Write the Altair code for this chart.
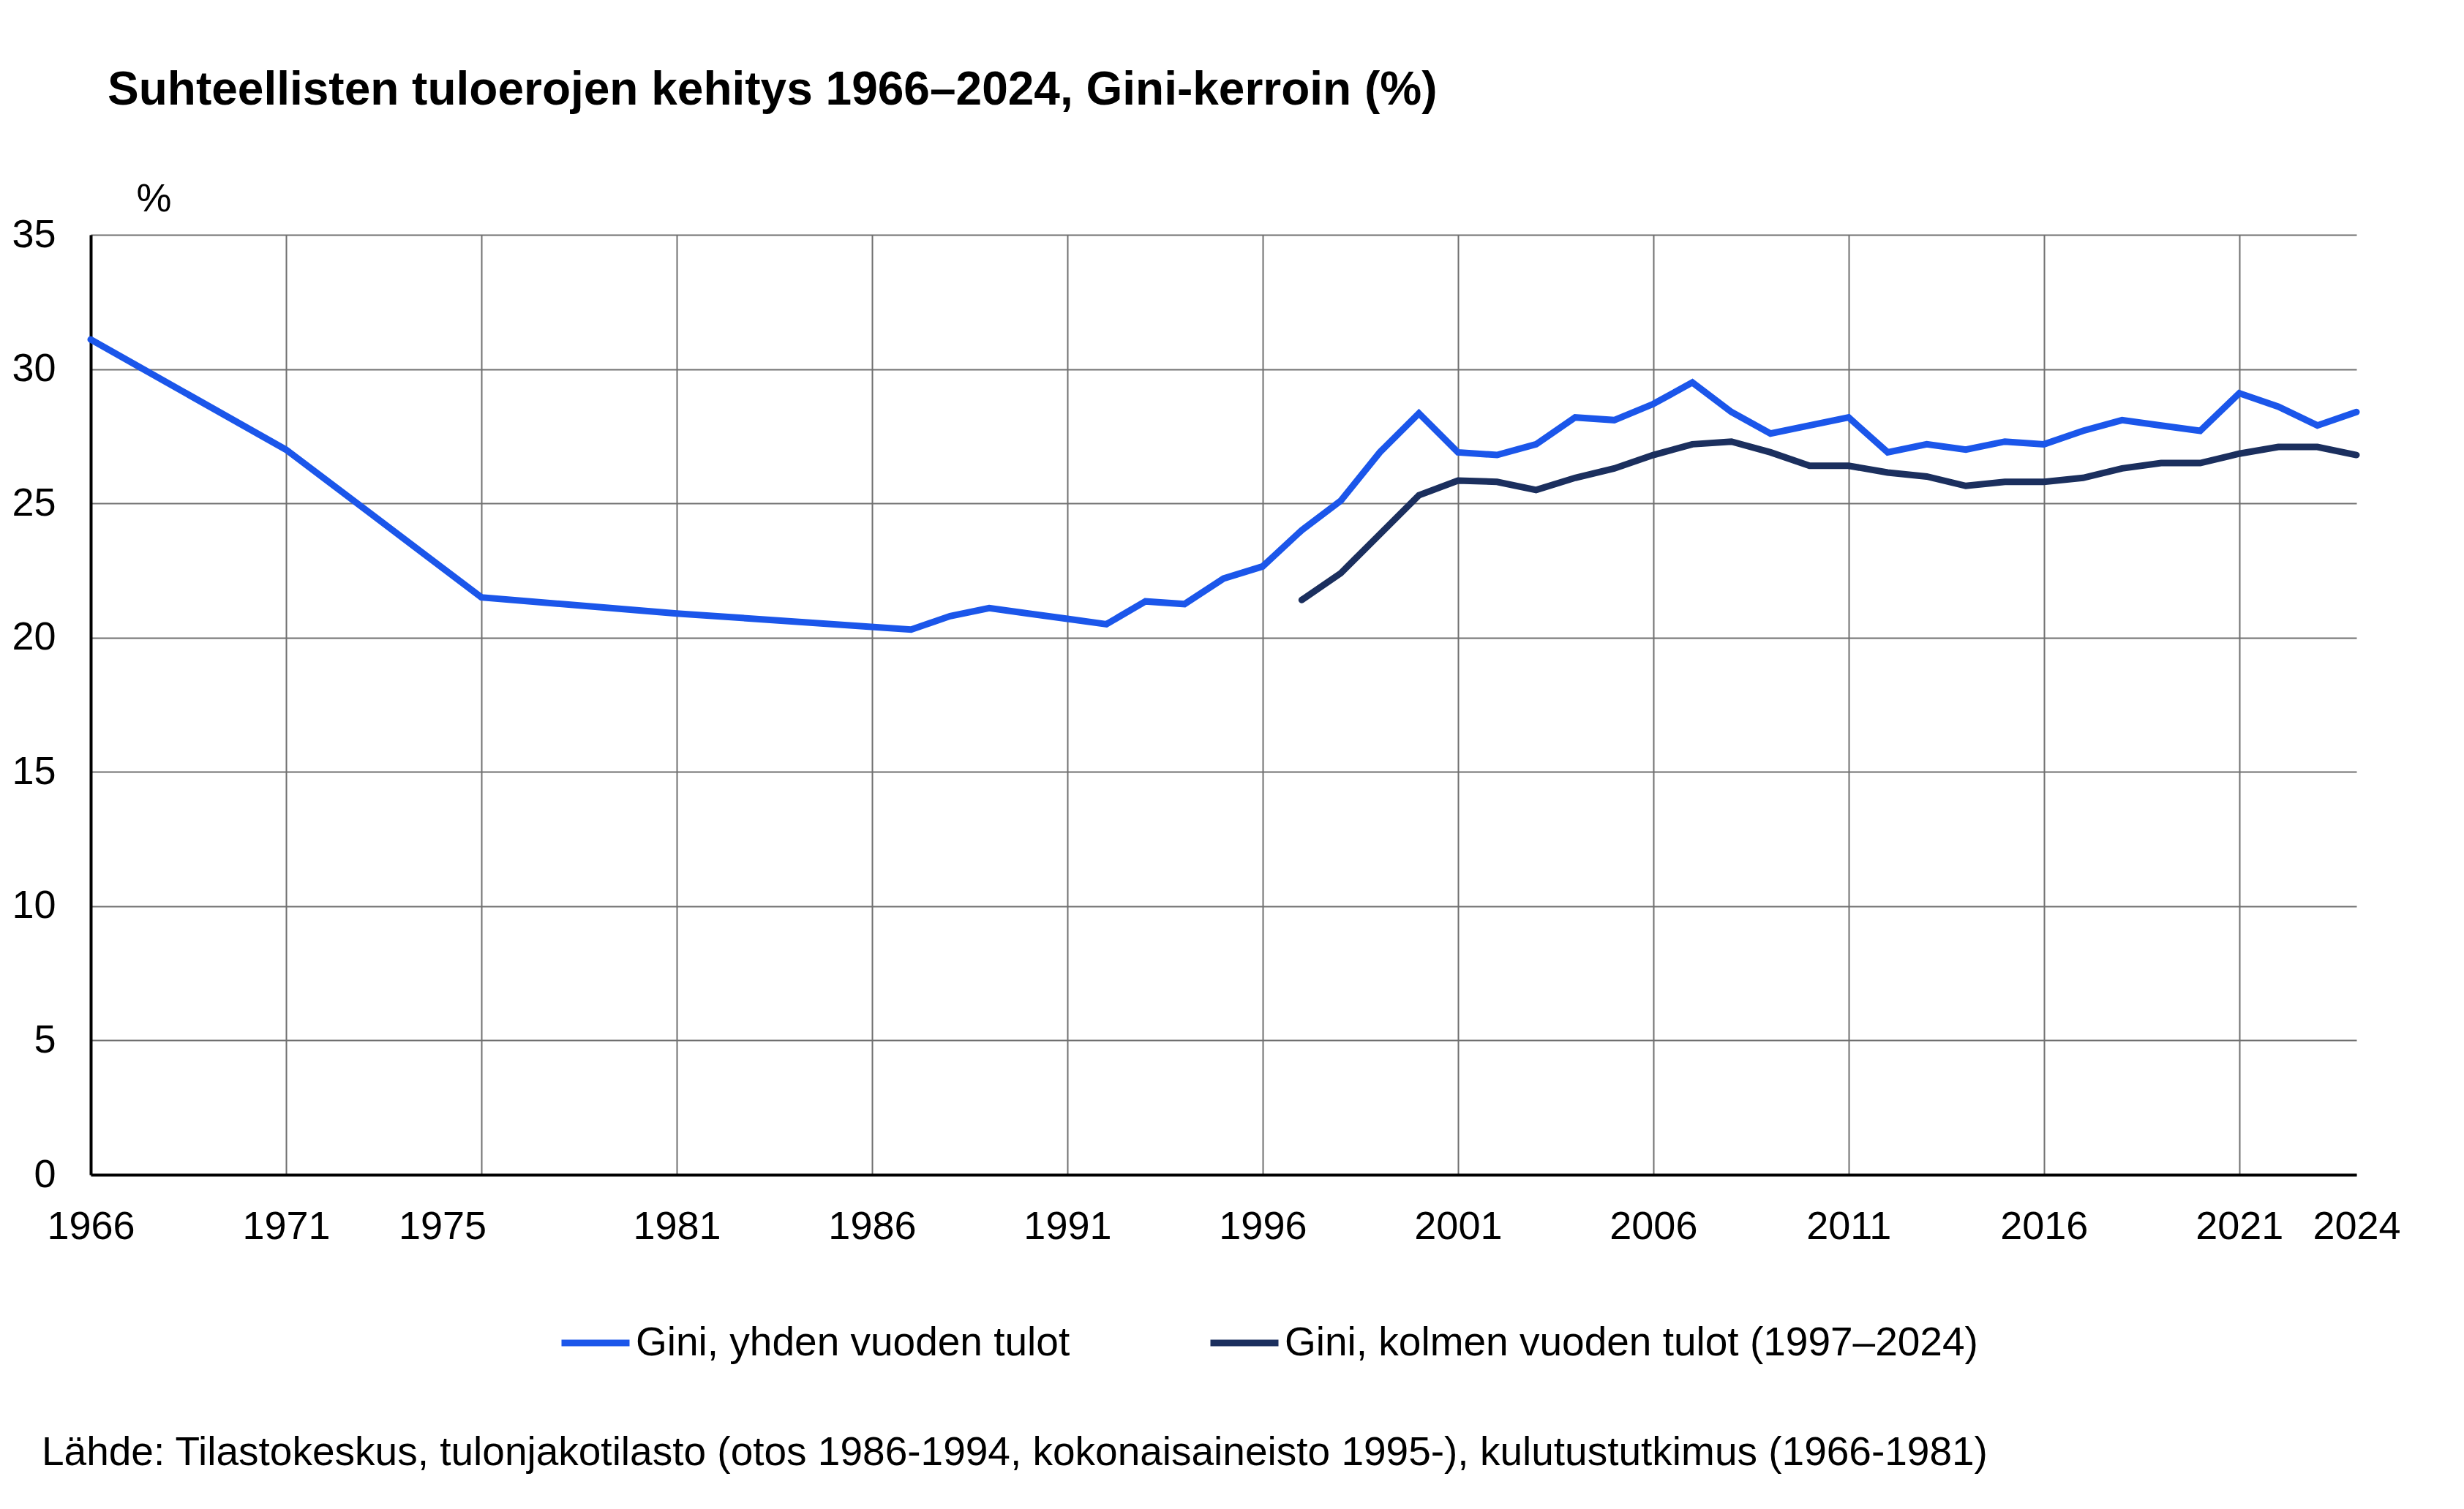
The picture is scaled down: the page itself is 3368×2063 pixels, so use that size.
import altair as alt
import pandas as pd

# ---- data ----
years_one = [1966, 1971, 1976, 1981, 1987, 1988, 1989, 1990, 1991, 1992, 1993, 1994,
             1995, 1996, 1997, 1998, 1999, 2000, 2001, 2002, 2003, 2004, 2005, 2006,
             2007, 2008, 2009, 2010, 2011, 2012, 2013, 2014, 2015, 2016, 2017, 2018,
             2019, 2020, 2021, 2022, 2023, 2024]
gini_one = [31.1, 27.0, 21.5, 20.9, 20.3, 20.8, 21.1, 20.9, 20.7, 20.5, 21.35, 21.25,
            22.2, 22.65, 24.0, 25.1, 26.9, 28.35, 26.9, 26.8, 27.2, 28.2, 28.1, 28.7,
            29.5, 28.4, 27.6, 27.9, 28.2, 26.9, 27.2, 27.0, 27.3, 27.2, 27.7, 28.1,
            27.9, 27.7, 29.1, 28.6, 27.9, 28.4]

years_three = [1997, 1998, 1999, 2000, 2001, 2002, 2003, 2004, 2005, 2006, 2007, 2008,
               2009, 2010, 2011, 2012, 2013, 2014, 2015, 2016, 2017, 2018, 2019, 2020,
               2021, 2022, 2023, 2024]
gini_three = [21.4, 22.4, 23.85, 25.3, 25.85, 25.8, 25.5, 25.95, 26.3, 26.8, 27.2, 27.3,
              26.9, 26.4, 26.4, 26.15, 26.0, 25.65, 25.8, 25.8, 25.95, 26.3, 26.5, 26.5,
              26.85, 27.1, 27.1, 26.8]

series_names = ["Gini, yhden vuoden tulot", "Gini, kolmen vuoden tulot (1997–2024)"]
series_colors = ["#1B56EA", "#1B2F5E"]

grid_years = [1966, 1971, 1976, 1981, 1986, 1991, 1996, 2001, 2006, 2011, 2016, 2021]
label_years = [1966, 1971, 1975, 1981, 1986, 1991, 1996, 2001, 2006, 2011, 2016, 2021, 2024]
y_ticks = [0, 5, 10, 15, 20, 25, 30, 35]

title_text = "Suhteellisten tuloerojen kehitys 1966–2024, Gini-kerroin (%)"
source_text = ("Lähde: Tilastokeskus, tulonjakotilasto (otos 1986-1994, kokonaisaineisto 1995-), "
               "kulutustutkimus (1966-1981)")

df_one = pd.DataFrame({"year": years_one, "gini": gini_one, "series": series_names[0]})
df_three = pd.DataFrame({"year": years_three, "gini": gini_three, "series": series_names[1]})
df_source = pd.DataFrame({"t": [source_text]})

FONT = "Liberation Sans"
GRID = "#707070"

x_scale = alt.Scale(domain=[1966, 2024], nice=False, zero=False)
y_scale = alt.Scale(domain=[0, 35], nice=False)
color_scale = alt.Scale(domain=series_names, range=series_colors)

y_enc = alt.Y(
    "gini:Q", scale=y_scale,
    axis=alt.Axis(values=y_ticks, format="d", title="%", titleAngle=0, titleAlign="left",
                  titleBaseline="alphabetic", titleX=62, titleY=-33, titleFontSize=54,
                  titleFontWeight="normal", titleFont=FONT, titleColor="black",
                  labelFontSize=54, labelFont=FONT, labelColor="black", labelPadding=48,
                  ticks=False, domainColor="black", domainWidth=4, grid=True,
                  gridColor=GRID, gridWidth=2, gridOpacity=1),
)

color_enc = alt.Color(
    "series:N", scale=color_scale,
    legend=alt.Legend(title=None, orient="none", legendX=639, legendY=1464,
                      direction="horizontal", symbolType="stroke", symbolSize=8649,
                      symbolStrokeWidth=9, labelFontSize=55, labelFont=FONT,
                      labelColor="black", labelOffset=4, labelLimit=0,
                      columnPadding=173),
)

line_one = alt.Chart(df_one).mark_line(strokeWidth=9, strokeCap="round").encode(
    x=alt.X("year:Q", scale=x_scale,
            axis=alt.Axis(values=grid_years, labels=False, ticks=False, grid=True,
                          gridColor=GRID, gridWidth=2, gridOpacity=1, domainColor="black",
                          domainWidth=4, title=None, orient="bottom")),
    y=y_enc,
    color=color_enc,
)

line_three = alt.Chart(df_three).mark_line(strokeWidth=9, strokeCap="round").encode(
    x=alt.X("year:Q", scale=x_scale,
            axis=alt.Axis(values=label_years, format="d", ticks=False, grid=False,
                          domain=False, labelFontSize=54, labelFont=FONT, labelColor="black",
                          labelPadding=44, labelOverlap=False, labelFlush=False,
                          labelBound=False, title=None, orient="bottom")),
    y=y_enc,
    color=color_enc,
)

source = alt.Chart(df_source).mark_text(
    align="left", baseline="alphabetic", fontSize=55, font=FONT, color="black"
).encode(x=alt.value(-67), y=alt.value(1682), text="t:N")

chart = alt.layer(line_one, line_three, source).resolve_axis(x="independent").properties(
    width=3097,
    height=1285,
    autosize=alt.AutoSizeParams(type="none"),
    padding={"left": 116, "top": 313, "right": 139, "bottom": 449},
    background="white",
    title=alt.TitleParams(title_text, anchor="start", frame="group", dx=23, offset=89,
                          fontSize=64, fontWeight="bold", font=FONT, color="black"),
).configure_view(stroke=None)

chart.save("out.html", embed_options={"renderer": "svg", "actions": False})
